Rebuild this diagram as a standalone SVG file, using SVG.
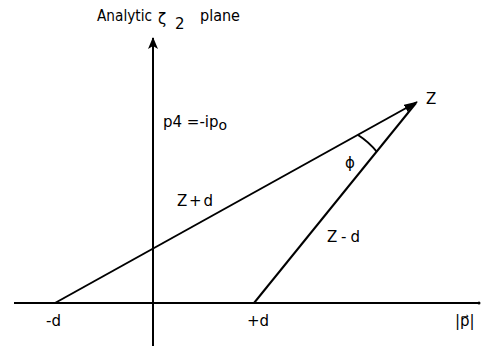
<svg xmlns="http://www.w3.org/2000/svg" width="481" height="348" viewBox="0 0 481 348">
<style>
.ln{stroke:#000;stroke-width:2;fill:none}
.t{font-family:"DejaVu Sans","Liberation Sans",sans-serif;font-size:15px;fill:#000}
</style>
<defs>
<marker id="ah" markerWidth="12" markerHeight="10" refX="11" refY="5" orient="auto" markerUnits="userSpaceOnUse">
<path d="M0,0 L12,5 L0,10 L3,5 Z" fill="#000"/>
</marker>
<marker id="ah2" markerWidth="14" markerHeight="8" refX="13" refY="4" orient="auto" markerUnits="userSpaceOnUse">
<path d="M0,0 L14,4 L0,8 Z" fill="#000"/>
</marker>
</defs>
<g id="axes">
<line class="ln" x1="14" y1="303" x2="478" y2="303"/>
<circle cx="479" cy="303" r="1.5" fill="#000"/>
<line class="ln" x1="153" y1="346" x2="153" y2="38" marker-end="url(#ah)"/>
</g>
<g id="connectors">
<line class="ln" x1="55" y1="303" x2="417" y2="102" marker-end="url(#ah2)"/>
<line class="ln" x1="254" y1="303" x2="416" y2="103"/>
<path class="ln" d="M358,135 Q369,142 377,152"/>
</g>
<g id="labels">
<text class="t" x="97" y="21" font-size="14" textLength="55" lengthAdjust="spacingAndGlyphs">Analytic</text>
<text class="t" x="158" y="24" font-size="18">ζ</text>
<text class="t" x="175" y="29" font-size="16">2</text>
<text class="t" x="200" y="21" font-size="14" textLength="40" lengthAdjust="spacingAndGlyphs">plane</text>
<text class="t" x="163" y="127">p4 =-ip<tspan dy="3" font-size="14">o</tspan></text>
<text class="t" x="426" y="104" font-size="16">Z</text>
<text class="t" x="345" y="168" font-size="16">ϕ</text>
<text class="t" x="177" y="206" textLength="36" lengthAdjust="spacing">Z+d</text>
<text class="t" x="327" y="242" textLength="33" lengthAdjust="spacing">Z-d</text>
<text class="t" x="46" y="326">-d</text>
<text class="t" x="247" y="326">+d</text>
<text class="t" x="455" y="326">|p⃗|</text>
</g>
</svg>
